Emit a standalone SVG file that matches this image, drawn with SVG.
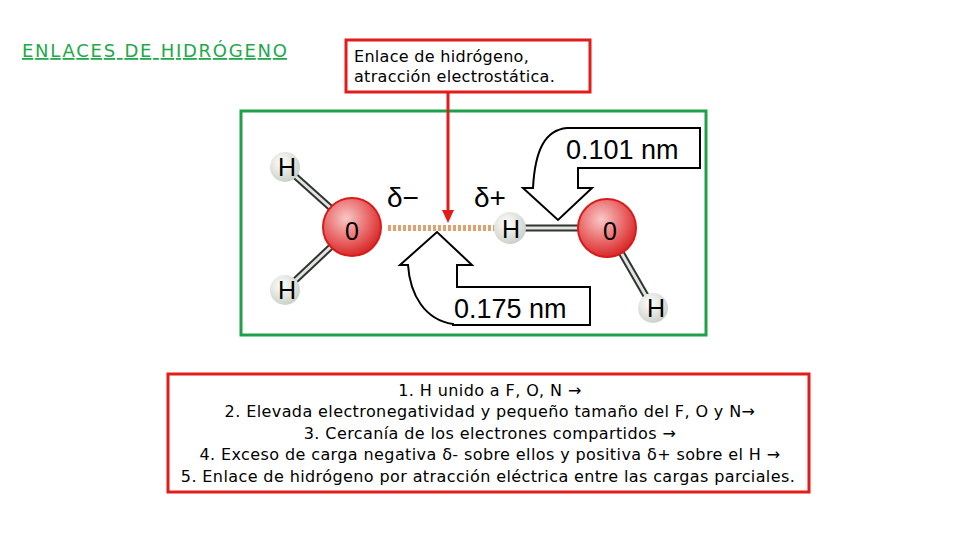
<svg xmlns="http://www.w3.org/2000/svg" width="960" height="540" viewBox="0 0 960 540">
<defs>
<radialGradient id="og" cx="0.4" cy="0.35" r="0.7"><stop offset="0" stop-color="#f8c8c8"/><stop offset="0.6" stop-color="#e86060"/><stop offset="1" stop-color="#d42020"/></radialGradient>
<radialGradient id="hg" cx="0.4" cy="0.35" r="0.7"><stop offset="0" stop-color="#ffffff"/><stop offset="1" stop-color="#c8cfc4"/></radialGradient>
</defs>
<style>
.t{font-family:"DejaVu Sans","Liberation Sans",sans-serif;fill:#000}
.m{font-family:"Liberation Sans",Arial,sans-serif;fill:#000}
.bond{stroke:#333;stroke-width:7}
.bondi{stroke:#dfe6e0;stroke-width:3}
.call{fill:#fff;stroke:#000;stroke-width:2}
</style>
<rect width="960" height="540" fill="#fff"/>
<g id="title"><text class="t" x="22" y="57" font-size="18" style="fill:#22a84a" text-decoration="underline" textLength="265" lengthAdjust="spacing">ENLACES DE HIDRÓGENO</text></g>
<g id="label-box"><rect x="346" y="40" width="244" height="52" fill="#fff" stroke="#e21b1b" stroke-width="3"/>
<text class="t" x="354" y="62" font-size="16" letter-spacing="0.3">Enlace de hidrógeno,</text>
<text class="t" x="354" y="82" font-size="16" letter-spacing="0.3">atracción electrostática.</text></g>
<g id="molecule">
<rect x="241" y="111" width="465" height="224" fill="#fff" stroke="#1fa04a" stroke-width="3"/>
<line x1="285" y1="167" x2="352" y2="227" class="bond"/><line x1="285" y1="167" x2="352" y2="227" class="bondi"/>
<line x1="285" y1="290" x2="352" y2="227" class="bond"/><line x1="285" y1="290" x2="352" y2="227" class="bondi"/>
<line x1="510" y1="228" x2="607" y2="228" class="bond"/><line x1="510" y1="228" x2="607" y2="228" class="bondi"/>
<line x1="653" y1="308" x2="607" y2="228" class="bond"/><line x1="653" y1="308" x2="607" y2="228" class="bondi"/>
<line x1="388" y1="228" x2="496" y2="228" stroke="#e0a070" stroke-width="6" stroke-dasharray="3,2"/>
<circle cx="285" cy="167" r="15" fill="url(#hg)"/><circle cx="285" cy="290" r="15" fill="url(#hg)"/>
<circle cx="510" cy="228" r="16" fill="url(#hg)"/><circle cx="653" cy="308" r="15" fill="url(#hg)"/>
<circle cx="352" cy="227" r="29" fill="url(#og)" stroke="#d81c1c" stroke-width="2"/>
<circle cx="607" cy="228" r="29" fill="url(#og)" stroke="#d81c1c" stroke-width="2"/>
<text class="m" x="287" y="176" font-size="25" text-anchor="middle">H</text>
<text class="m" x="287" y="299" font-size="25" text-anchor="middle">H</text>
<text class="m" x="511" y="238" font-size="25" text-anchor="middle">H</text>
<text class="m" x="656" y="317" font-size="25" text-anchor="middle">H</text>
<text class="m" x="352" y="240" font-size="25" text-anchor="middle">0</text>
<text class="m" x="610" y="240" font-size="25" text-anchor="middle">0</text>
<text class="m" x="387" y="207" font-size="28">δ−</text>
<text class="m" x="474" y="207" font-size="28">δ+</text>
<path class="call" d="M567,128 C545,130 535,150 533,188 L523,188 L558,220 L592,188 L578,188 L578,168 L700,168 L700,128 Z"/>
<text class="m" x="566" y="159" font-size="27">0.101 nm</text>
<path class="call" d="M453,324 C425,320 410,295 408,265 L400,265 L437,232 L472,265 L457,265 L457,287 L590,287 L590,325 L453,325 Z"/>
<text class="m" x="454" y="318" font-size="27">0.175 nm</text>
</g>
<g id="connectors"><line x1="448" y1="92" x2="448" y2="212" stroke="#e21b1b" stroke-width="3"/><path d="M442,210 L448,223 L454,210 Z" fill="#e21b1b"/></g>
<g id="steps"><rect x="168" y="374" width="641" height="118" fill="#fff" stroke="#e21b1b" stroke-width="3"/>
<g class="t" font-size="16" text-anchor="middle" letter-spacing="0.4">
<text x="490" y="396">1.  H unido a F, O, N →</text>
<text x="490" y="417">2.  Elevada electronegatividad y  pequeño tamaño del F, O y N→</text>
<text x="490" y="439">3.  Cercanía de los electrones compartidos →</text>
<text x="490" y="460">4.  Exceso de carga negativa δ- sobre ellos y positiva δ+ sobre el H →</text>
<text x="488" y="482">5.  Enlace de hidrógeno por atracción eléctrica entre las cargas parciales.</text>
</g></g>
</svg>
